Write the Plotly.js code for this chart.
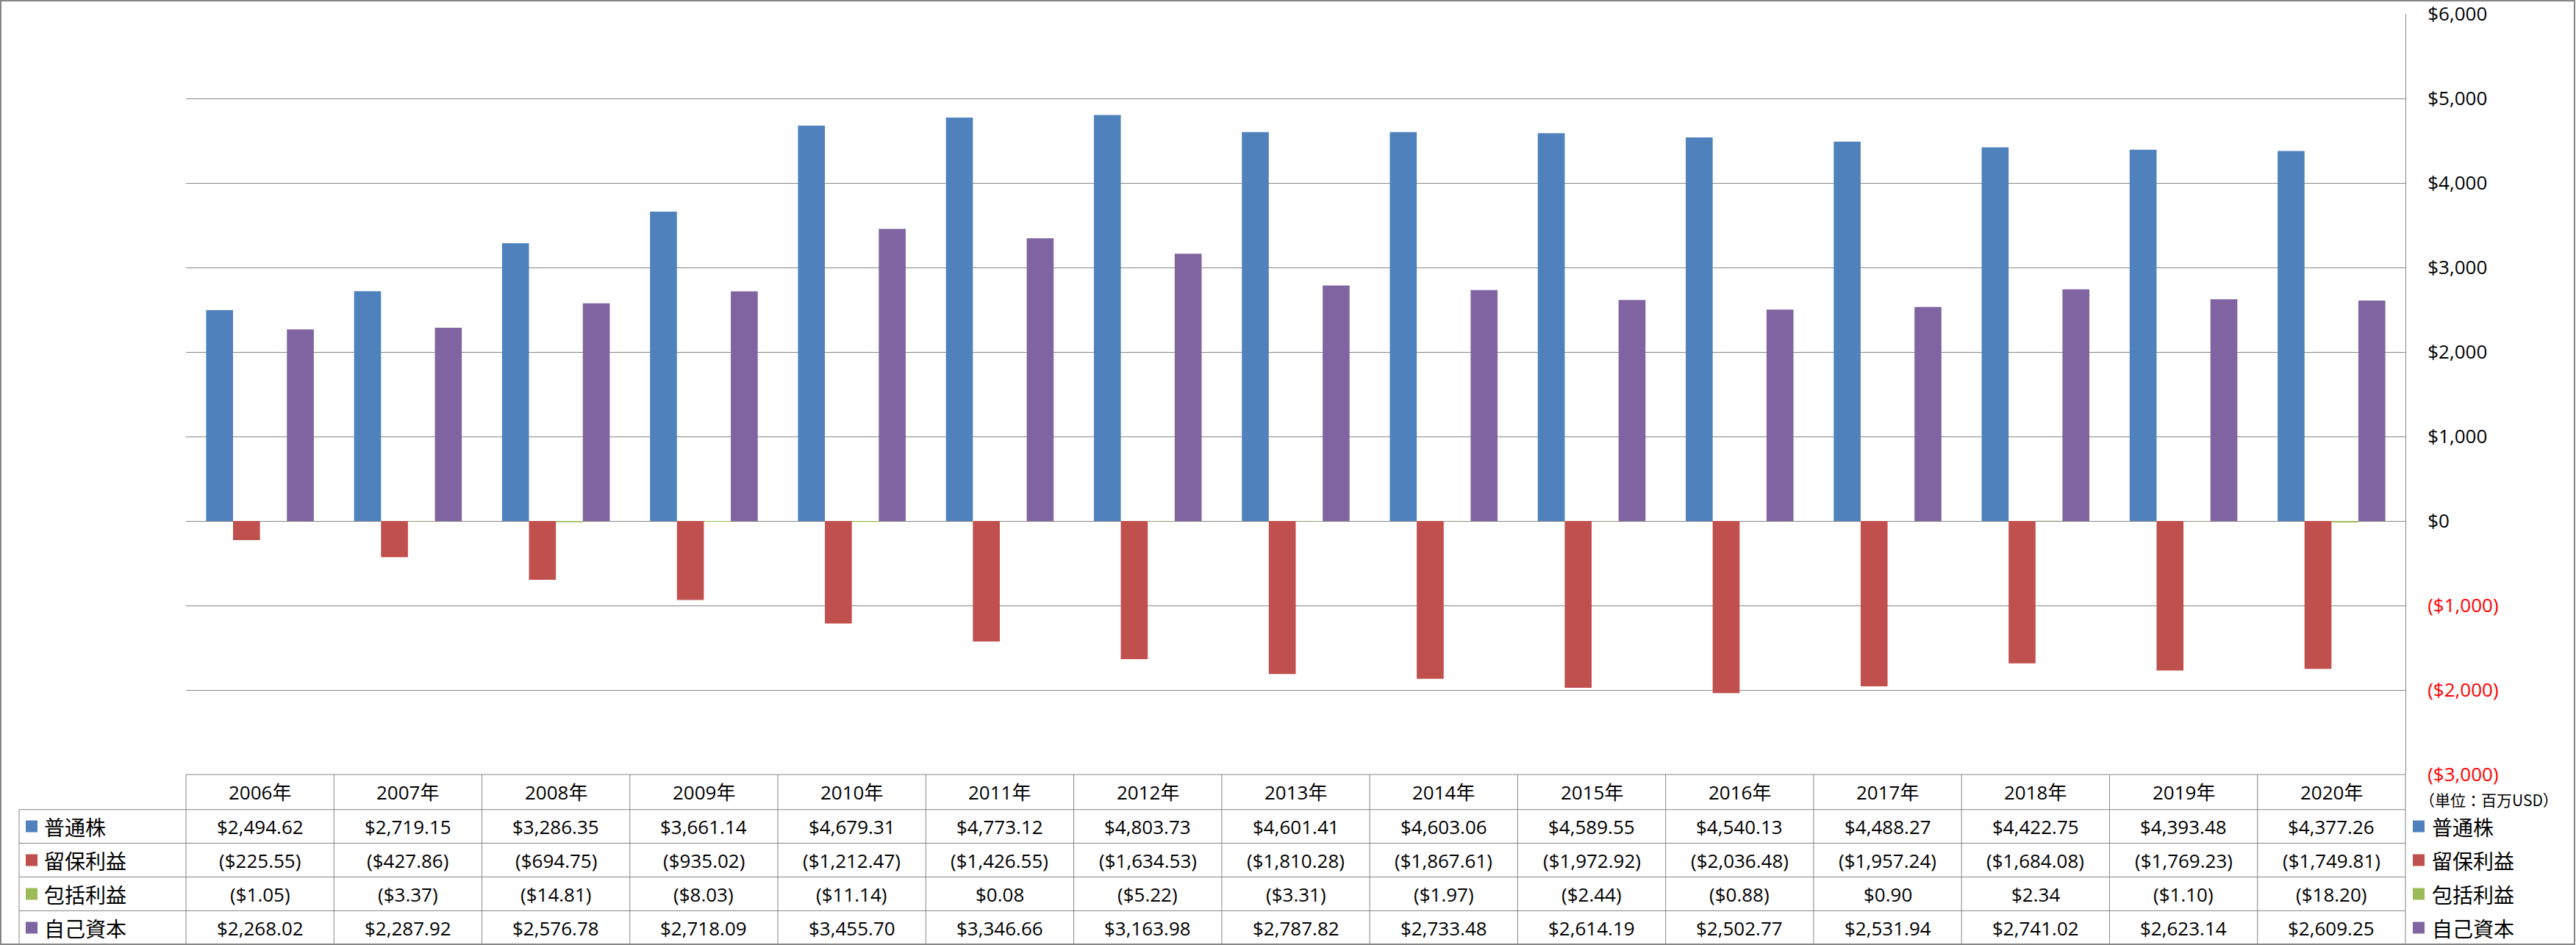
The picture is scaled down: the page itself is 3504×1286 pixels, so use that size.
<!DOCTYPE html>
<html>
<head>
<meta charset="utf-8">
<script src="https://cdn.plot.ly/plotly-3.0.1.min.js"></script>
<style>
html,body{margin:0;padding:0;background:#fff;}
#chart{width:3504px;height:1286px;}
</style>
</head>
<body>
<div id="chart"></div>
<script>
// ---- data ----
const years = ['2006年','2007年','2008年','2009年','2010年','2011年','2012年','2013年','2014年','2015年','2016年','2017年','2018年','2019年','2020年'];
const seriesNames = ['普通株','留保利益','包括利益','自己資本'];
const commonStock = [2494.62, 2719.15, 3286.35, 3661.14, 4679.31, 4773.12, 4803.73, 4601.41, 4603.06, 4589.55, 4540.13, 4488.27, 4422.75, 4393.48, 4377.26];
const retainedEarnings = [-225.55, -427.86, -694.75, -935.02, -1212.47, -1426.55, -1634.53, -1810.28, -1867.61, -1972.92, -2036.48, -1957.24, -1684.08, -1769.23, -1749.81];
const comprehensiveIncome = [-1.05, -3.37, -14.81, -8.03, -11.14, 0.08, -5.22, -3.31, -1.97, -2.44, -0.88, 0.90, 2.34, -1.10, -18.20];
const equity = [2268.02, 2287.92, 2576.78, 2718.09, 3455.70, 3346.66, 3163.98, 2787.82, 2733.48, 2614.19, 2502.77, 2531.94, 2741.02, 2623.14, 2609.25];
const yTickVals = [-3000, -2000, -1000, 0, 1000, 2000, 3000, 4000, 5000, 6000];
const unitNote = '（単位：百万USD）';

// ---- styling ----
const seriesValues = [commonStock, retainedEarnings, comprehensiveIncome, equity];
const colors = ['#4F81BD', '#C0504D', '#9BBB59', '#8064A2'];
const gridColor = '#868686';
const numFont = 'Open Sans, "Noto Sans CJK JP", sans-serif';
const jpFont = '"Noto Sans CJK JP", sans-serif';

const W = 3504, H = 1286;
const mL = 253, mR = 232, mT = 19, mB = 232;
const plotW = W - mL - mR, plotH = H - mT - mB;
const plotBottom = H - mB, plotRight = W - mR;
function px2x(px){ return (px - mL) / plotW; }
function py2y(py){ return (plotBottom - py) / plotH; }

function fmtMoney(v, dec){
  const a = Math.abs(v);
  let s = a.toFixed(dec);
  let parts = s.split('.');
  parts[0] = parts[0].replace(/\B(?=(\d{3})+(?!\d))/g, ',');
  s = '$' + parts.join('.');
  return v < 0 ? '(' + s + ')' : s;
}

const traces = seriesNames.map((name, k) => ({
  type: 'bar',
  name: name,
  x: years,
  y: seriesValues[k],
  marker: {color: colors[k], line: {width: 0}},
  hoverinfo: 'x+y+name'
}));

const tickText = yTickVals.map(v => v < 0
  ? '<span style="color:#FF0000">' + fmtMoney(v, 0) + '</span>'
  : fmtMoney(v, 0));

// ---- table geometry ----
const headerTop = plotBottom;           // 1054
const rowLines = [1101.7, 1147.5, 1193.4, 1239.4, 1285.5];
const headerCenter = 1078;
const rowCenters = [1124.5, 1170.5, 1216.5, 1262.5];
const tableLeft = 26;
const colW = plotW / years.length;

const shapes = [];
const line = {color: gridColor, width: 1};
// header top line
shapes.push({type:'line', xref:'paper', yref:'paper', x0:px2x(mL), x1:px2x(plotRight), y0:py2y(headerTop), y1:py2y(headerTop), line});
// row lines
rowLines.forEach(r => shapes.push({type:'line', xref:'paper', yref:'paper', x0:px2x(tableLeft), x1:px2x(plotRight), y0:py2y(r), y1:py2y(r), line}));
// column lines
for (let i = 0; i < years.length; i++) {
  const xx = mL + i * colW;
  shapes.push({type:'line', xref:'paper', yref:'paper', x0:px2x(xx), x1:px2x(xx), y0:py2y(headerTop), y1:py2y(H), line});
}
shapes.push({type:'line', xref:'paper', yref:'paper', x0:px2x(plotRight), x1:px2x(plotRight), y0:py2y(headerTop), y1:py2y(H), line});
shapes.push({type:'line', xref:'paper', yref:'paper', x0:px2x(tableLeft), x1:px2x(tableLeft), y0:py2y(rowLines[0]), y1:py2y(H), line});
// legend keys (table left and right)
seriesNames.forEach((n, k) => {
  const c = rowCenters[k];
  shapes.push({type:'rect', xref:'paper', yref:'paper', x0:px2x(35), x1:px2x(51), y0:py2y(c+8), y1:py2y(c-8), fillcolor:colors[k], line:{width:0}});
  shapes.push({type:'rect', xref:'paper', yref:'paper', x0:px2x(3282), x1:px2x(3298), y0:py2y(c+8), y1:py2y(c-8), fillcolor:colors[k], line:{width:0}});
});
// outer border
shapes.push({type:'rect', xref:'paper', yref:'paper', x0:px2x(1), x1:px2x(3502), y0:py2y(1285), y1:py2y(1), line:{color:gridColor, width:2}, fillcolor:'rgba(0,0,0,0)'});

const annotations = [];
years.forEach((yr, i) => {
  annotations.push({xref:'paper', yref:'paper', x:(i+0.5)/years.length, y:py2y(headerCenter), text:yr, showarrow:false, xanchor:'center', yanchor:'middle', font:{family:numFont, size:26, color:'#000'}});
  seriesValues.forEach((vals, k) => {
    annotations.push({xref:'paper', yref:'paper', x:(i+0.5)/years.length, y:py2y(rowCenters[k]), text:fmtMoney(vals[i], 2), showarrow:false, xanchor:'center', yanchor:'middle', font:{family:numFont, size:26, color:'#000'}});
  });
});
seriesNames.forEach((n, k) => {
  annotations.push({xref:'paper', yref:'paper', x:px2x(58), y:py2y(rowCenters[k]), text:n, showarrow:false, xanchor:'left', yanchor:'middle', font:{family:jpFont, size:28, color:'#000'}});
  annotations.push({xref:'paper', yref:'paper', x:px2x(3306), y:py2y(rowCenters[k]), text:n, showarrow:false, xanchor:'left', yanchor:'middle', font:{family:jpFont, size:28, color:'#000'}});
});
annotations.push({xref:'paper', yref:'paper', x:px2x(3385), y:py2y(1088), text:unitNote, showarrow:false, xanchor:'center', yanchor:'middle', font:{family:jpFont, size:21, color:'#000'}});

const layout = {
  width: W, height: H,
  margin: {l: mL, r: mR, t: mT, b: mB, pad: 0},
  paper_bgcolor: '#fff', plot_bgcolor: '#fff',
  showlegend: false,
  barmode: 'group',
  bargap: 0.272,
  bargroupgap: 0,
  xaxis: {type:'category', showticklabels:false, showgrid:false, showline:false, zeroline:false, ticks:'', fixedrange:true},
  yaxis: {
    side:'right', range:[-3000, 6000], tickmode:'array', tickvals:yTickVals, ticktext:tickText,
    showgrid:true, gridcolor:gridColor, gridwidth:1,
    zeroline:true, zerolinecolor:gridColor, zerolinewidth:1,
    showline:true, linecolor:gridColor, linewidth:1,
    ticks:'', ticklabelstandoff:24,
    tickfont:{family:numFont, size:26, color:'#000'}, fixedrange:true
  },
  shapes: shapes,
  annotations: annotations
};

Plotly.newPlot('chart', traces, layout, {displayModeBar:false, staticPlot:true});
</script>
</body>
</html>
